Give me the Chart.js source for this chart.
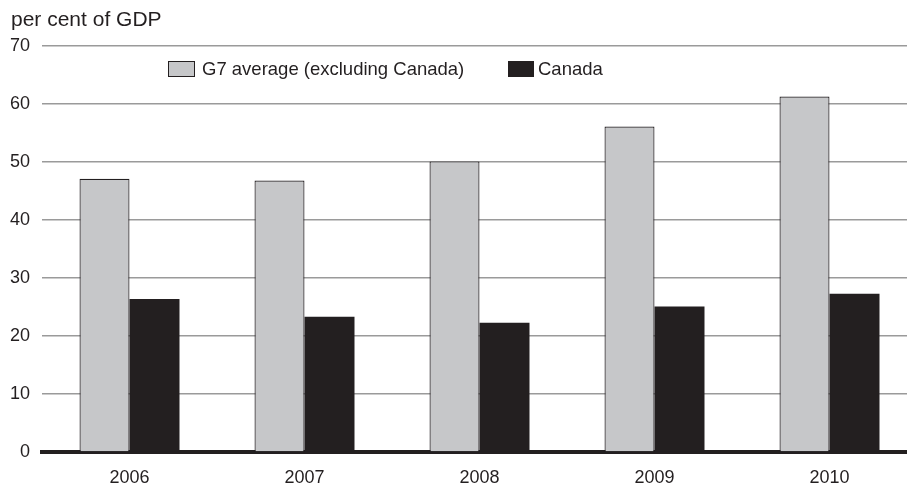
<!DOCTYPE html>
<html>
<head>
<meta charset="utf-8">
<script src="https://cdn.jsdelivr.net/npm/chart.js@4"></script>
<style>
  html, body { margin: 0; padding: 0; background: #fff; overflow: hidden; }
  #wrap { width: 917px; height: 489px; position: relative; }
</style>
</head>
<body>
<div id="wrap"><canvas id="debt-chart"></canvas></div>
<script>
const years = ["2006", "2007", "2008", "2009", "2010"];
const g7Values = [47.1, 46.8, 50.1, 56.1, 61.3];
const canadaValues = [26.4, 23.3, 22.3, 25.1, 27.3];
const seriesNames = ["G7 average (excluding Canada)", "Canada"];
const unitLabel = "per cent of GDP";

const FONT = "'Liberation Sans', Arial, Helvetica, sans-serif";
const DARK = "#231f20";
const LIGHT = "#c6c7c9";

// title and in-plot legend, drawn by hand
const annotations = {
  id: "annotations",
  afterDraw(chart) {
    const ctx = chart.ctx;
    ctx.save();
    ctx.fillStyle = DARK;
    ctx.font = "21px " + FONT;
    ctx.textAlign = "left";
    ctx.textBaseline = "alphabetic";
    ctx.fillText(unitLabel, 11, 26);

    const items = [
      { x: 168, w: 27, textX: 202 },
      { x: 508, w: 26, textX: 538 },
    ];
    ctx.font = "18.5px " + FONT;
    ctx.textBaseline = "middle";
    chart.data.datasets.forEach((ds, i) => {
      const it = items[i];
      ctx.fillStyle = ds.backgroundColor;
      ctx.fillRect(it.x, 61, it.w, 16);
      ctx.strokeStyle = DARK;
      ctx.lineWidth = 1;
      ctx.strokeRect(it.x + 0.5, 61.5, it.w - 1, 15);
      ctx.fillStyle = DARK;
      ctx.fillText(ds.label, it.textX, 70);
    });
    ctx.restore();
  },
};

const ctx = document.getElementById("debt-chart").getContext("2d");
new Chart(ctx, {
  type: "bar",
  data: {
    labels: years,
    datasets: [
      {
        label: seriesNames[0],
        data: g7Values,
        backgroundColor: LIGHT,
        borderColor: DARK,
        borderWidth: 1.2,
      },
      {
        label: seriesNames[1],
        data: canadaValues,
        backgroundColor: DARK,
        borderColor: DARK,
        borderWidth: 0,
      },
    ],
  },
  options: {
    responsive: true,
    maintainAspectRatio: false,
    animation: false,
    layout: { padding: { top: 46, left: 0, right: 0, bottom: 0 } },
    datasets: {
      bar: { categoryPercentage: 0.5714, barPercentage: 1.0 },
    },
    plugins: {
      legend: { display: false },
      tooltip: { enabled: false },
    },
    scales: {
      x: {
        afterFit: (scale) => { scale.height = 37; },
        grid: { display: false, drawTicks: false },
        border: { display: true, color: DARK, width: 4 },
        ticks: { color: DARK, font: { family: FONT, size: 18 }, padding: 15 },
      },
      y: {
        min: 0,
        max: 70,
        afterFit: (scale) => { scale.width = 42; },
        grid: { color: "#9a9a9a", lineWidth: 1.5, drawTicks: false },
        border: { display: false },
        ticks: {
          stepSize: 10,
          color: DARK,
          font: { family: FONT, size: 18 },
          padding: 12,
        },
      },
    },
  },
  plugins: [annotations],
});
</script>
</body>
</html>
